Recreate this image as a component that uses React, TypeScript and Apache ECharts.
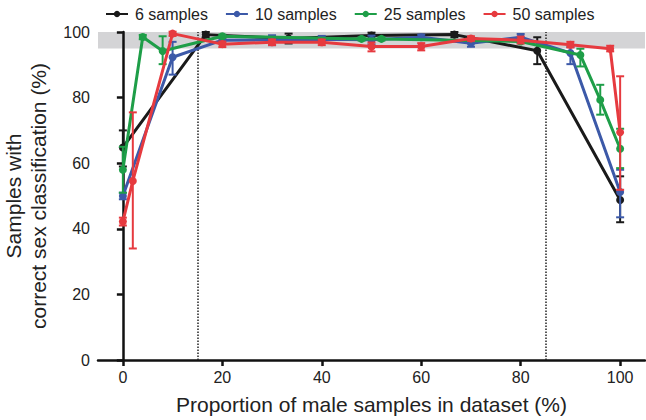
import React, { useEffect, useRef } from "react";
import * as echarts from "echarts";

const xTicks = [0, 20, 40, 60, 80, 100];

const blackX = [0, 16.67, 33.33, 50, 66.67, 83.33, 100];
const blackY = [64.8, 99.2, 98.0, 98.9, 99.2, 94.3, 48.8];
const blackLo = [59, 98.4, 96.5, 98.0, 98.4, 90.2, 42];
const blackHi = [70, 100, 99.5, 99.8, 100, 98.4, 56];

const blueX = [0, 10, 20, 30, 40, 50, 60, 70, 80, 90, 100];
const blueY = [50, 92.3, 97.5, 97.6, 97.8, 97.6, 98.4, 96.6, 98.4, 93.6, 51.2];
const blueLo = [49, 87, 96.8, 96, 96.8, 96.2, 97.6, 95.5, 97.5, 90.2, 43.5];
const blueHi = [51, 97, 98.2, 99, 98.8, 98.9, 99.2, 97.6, 99.4, 95.4, 58];

const greenX = [0, 4, 8, 20, 48, 52, 80, 92, 96, 100];
const greenY = [58, 98.5, 94.2, 98.7, 97.9, 97.9, 97.1, 93.0, 79.3, 64.4];
const greenLo = [51, 97.8, 90.2, 98.2, 97.4, 97.4, 96.6, 89.5, 74.8, 58.5];
const greenHi = [65, 99.1, 98.7, 99.2, 98.4, 98.4, 97.6, 94.9, 83.9, 70.5];

const redX = [0, 2, 10, 20, 30, 40, 50, 60, 70, 80, 90, 98, 100];
const redY = [42.2, 54.6, 99.5, 96.3, 96.9, 96.9, 95.6, 95.6, 98.0, 97.5, 96.1, 94.9, 69.4];
const redLo = [41, 34, 98.8, 95.4, 96.0, 96.0, 94.1, 94.4, 97.3, 96.5, 95.3, 94.1, 51.9];
const redHi = [43.4, 75.5, 100.1, 97.1, 97.7, 97.7, 96.8, 96.6, 98.7, 98.6, 97.0, 95.8, 86.5];

const seriesDefs = [
  { name: "6 samples", color: "#1a1a1a", x: blackX, y: blackY, lo: blackLo, hi: blackHi },
  { name: "10 samples", color: "#3c59a8", x: blueX, y: blueY, lo: blueLo, hi: blueHi },
  { name: "25 samples", color: "#1e9e48", x: greenX, y: greenY, lo: greenLo, hi: greenHi },
  { name: "50 samples", color: "#e63a3f", x: redX, y: redY, lo: redLo, hi: redHi },
];

const FONT = "Liberation Sans, Arial, Helvetica, sans-serif";

export default function App() {
  const ref = useRef<HTMLDivElement>(null);
  useEffect(() => {
    if (!ref.current) return;
    const chart = echarts.init(ref.current, undefined, { renderer: "svg" });
    const series: any[] = [];
    seriesDefs.forEach((s, i) => {
      series.push({
        name: s.name + " error",
        type: "custom",
        z: 2 + i * 2,
        data: s.x.map((xv, k) => [xv, s.lo[k], s.hi[k]]),
        encode: { x: 0, y: [1, 2] },
        renderItem: (params: any, api: any) => {
          const xv = api.value(0);
          const p1 = api.coord([xv, api.value(1)]);
          const p2 = api.coord([xv, api.value(2)]);
          const hw = 4;
          const style = { stroke: s.color, lineWidth: 2 };
          return {
            type: "group",
            children: [
              { type: "line", shape: { x1: p1[0], y1: p1[1], x2: p2[0], y2: p2[1] }, style },
              { type: "line", shape: { x1: p1[0] - hw, y1: p1[1], x2: p1[0] + hw, y2: p1[1] }, style },
              { type: "line", shape: { x1: p2[0] - hw, y1: p2[1], x2: p2[0] + hw, y2: p2[1] }, style },
            ],
          };
        },
      });
      const line: any = {
        name: s.name,
        type: "line",
        z: 3 + i * 2,
        data: s.x.map((xv, k) => [xv, s.y[k]]),
        symbol: "circle",
        symbolSize: 8,
        color: s.color,
        lineStyle: { width: 3, color: s.color },
        itemStyle: { color: s.color },
      };
      if (i === 0) {
        line.markArea = {
          silent: true,
          itemStyle: { color: "#d4d4d6" },
          data: [[{ yAxis: 95 }, { yAxis: 100 }]],
          z: 0,
        };
        line.markLine = {
          silent: true,
          symbol: ["none", "none"],
          label: { show: false },
          lineStyle: { type: "dotted", color: "#222", width: 1.5 },
          data: [{ xAxis: 15 }, { xAxis: 85 }],
        };
      }
      series.push(line);
    });

    chart.setOption({
      animation: false,
      textStyle: { fontFamily: FONT },
      grid: { left: 98, right: 1, top: 32, bottom: 60, outerBoundsMode: "none", containLabel: false },
      legend: {
        data: seriesDefs.map((s) => s.name),
        left: 100,
        top: 1,
        itemWidth: 22,
        itemHeight: 8,
        itemGap: 17,
        textStyle: { fontSize: 16, color: "#222", fontFamily: FONT, padding: [0, 0, 0, 2] },
      },
      xAxis: {
        type: "value",
        min: -5,
        max: 105,
        name: "Proportion of male samples in dataset (%)",
        nameLocation: "middle",
        nameGap: 34,
        nameTextStyle: { fontSize: 21, color: "#222", fontFamily: FONT },
        axisLine: { onZero: false, lineStyle: { color: "#111", width: 2.5 } },
        axisTick: { show: true, length: 6, lineStyle: { width: 2.5, color: "#111" }, customValues: xTicks },
        axisLabel: { fontSize: 16, color: "#222", margin: 9, customValues: xTicks },
        splitLine: { show: false },
      },
      yAxis: {
        type: "value",
        min: 0,
        max: 100,
        interval: 20,
        name: "Samples with\ncorrect sex classification (%)",
        nameLocation: "middle",
        nameRotate: 90,
        nameGap: 47,
        nameTextStyle: { fontSize: 21, color: "#222", fontFamily: FONT, lineHeight: 25 },
        axisLine: { show: true, lineStyle: { color: "#111", width: 2.5 } },
        axisTick: { show: true, length: 6, lineStyle: { width: 2.5, color: "#111" } },
        axisLabel: { fontSize: 16, color: "#222", margin: 8 },
        splitLine: { show: false },
      },
      series,
    });
    return () => chart.dispose();
  }, []);
  return (
    <div
      ref={ref}
      style={{ position: "fixed", left: 0, top: 0, width: 646, height: 420, background: "#fff" }}
    />
  );
}
